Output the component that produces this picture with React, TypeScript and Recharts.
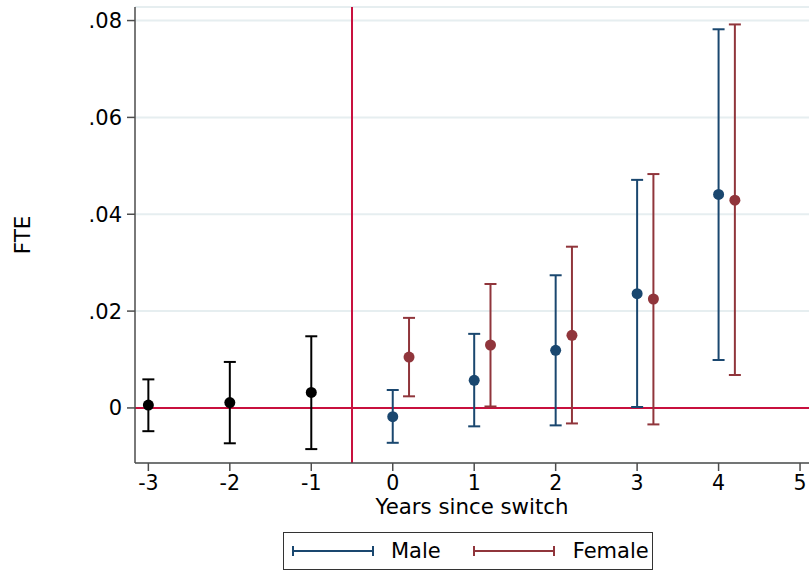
import { ComposedChart, Scatter, ErrorBar, XAxis, YAxis, CartesianGrid, ReferenceLine } from 'recharts';

// pre-switch estimates (pooled)
const preYears = [-3, -2, -1];
const preEst = [0.0006, 0.0011, 0.0032];
const preLo = [-0.0048, -0.0073, -0.0085];
const preHi = [0.0059, 0.0095, 0.0148];

// post-switch estimates by gender
const postYears = [0, 1, 2, 3, 4];
const maleEst = [-0.0018, 0.0057, 0.0119, 0.0236, 0.0441];
const maleLo = [-0.0072, -0.0038, -0.0036, 0.0002, 0.0099];
const maleHi = [0.0037, 0.0153, 0.0274, 0.0471, 0.0782];
const femaleEst = [0.0105, 0.013, 0.015, 0.0225, 0.0429];
const femaleLo = [0.0024, 0.0003, -0.0032, -0.0034, 0.0068];
const femaleHi = [0.0186, 0.0256, 0.0333, 0.0483, 0.0792];
const femaleShift = 0.2;

const xTicks = [-3, -2, -1, 0, 1, 2, 3, 4, 5];
const yTicks = [0, 0.02, 0.04, 0.06, 0.08];

const NAVY = '#1a476f';
const MAROON = '#90353b';
const RED = '#c8103e';
const FONT = '"DejaVu Sans", sans-serif';

const build = (xs: number[], est: number[], lo: number[], hi: number[], shift = 0) =>
  xs.map((x, i) => ({ x: x + shift, y: est[i], err: [est[i] - lo[i], hi[i] - est[i]] }));

const preData = build(preYears, preEst, preLo, preHi);
const maleData = build(postYears, maleEst, maleLo, maleHi);
const femaleData = build(postYears, femaleEst, femaleLo, femaleHi, femaleShift);

const fmtY = (v: number) => (v === 0 ? '0' : v.toFixed(2).replace(/^0/, ''));

const dot = (color: string) => (p: any) => <circle cx={p.cx} cy={p.cy} r={5.5} fill={color} />;

function LegendKey({ color }: { color: string }) {
  return (
    <svg width={82} height={12} style={{ display: 'block' }}>
      <line x1={1} y1={6} x2={81} y2={6} stroke={color} strokeWidth={2} />
      <line x1={1} y1={1} x2={1} y2={11} stroke={color} strokeWidth={2} />
      <line x1={81} y1={1} x2={81} y2={11} stroke={color} strokeWidth={2} />
    </svg>
  );
}

export default function App() {
  return (
    <div style={{ position: 'absolute', left: 0, top: 0, width: 809, height: 572, background: '#fff', fontFamily: FONT }}>
      <ComposedChart width={809} height={572} margin={{ top: 7, right: 0, bottom: 0, left: 0 }}>
        <CartesianGrid vertical={false} stroke="#e6eef0" strokeWidth={2} />
        <XAxis
          type="number"
          dataKey="x"
          domain={[-3.164, 5.11]}
          ticks={xTicks}
          allowDataOverflow
          height={109}
          tickSize={8}
          tickMargin={4}
          stroke="#4d4d4d"
          strokeWidth={1.5}
          tick={{ fill: '#000', fontSize: 20.5, fontFamily: FONT }}
          label={{ value: 'Years since switch', position: 'insideBottom', offset: 58, fill: '#000', fontSize: 21.3, fontFamily: FONT }}
        />
        <YAxis
          type="number"
          dataKey="y"
          domain={[-0.01137, 0.0828]}
          ticks={yTicks}
          allowDataOverflow
          width={135}
          tickSize={8}
          tickMargin={5}
          tickFormatter={fmtY}
          stroke="#4d4d4d"
          strokeWidth={1.5}
          tick={{ fill: '#000', fontSize: 21, fontFamily: FONT }}
          label={{ value: 'FTE', angle: -90, position: 'insideLeft', offset: 22, fill: '#000', fontSize: 21.5, fontFamily: FONT, style: { textAnchor: 'middle' } }}
        />
        <ReferenceLine y={0} stroke={RED} strokeWidth={2} />
        <ReferenceLine x={-0.5} stroke={RED} strokeWidth={2} />
        <Scatter data={preData} dataKey="y" isAnimationActive={false} shape={dot('#000')}>
          <ErrorBar dataKey="err" direction="y" width={6} stroke="#000" strokeWidth={2} />
        </Scatter>
        <Scatter data={maleData} dataKey="y" isAnimationActive={false} shape={dot(NAVY)}>
          <ErrorBar dataKey="err" direction="y" width={6} stroke={NAVY} strokeWidth={2} />
        </Scatter>
        <Scatter data={femaleData} dataKey="y" isAnimationActive={false} shape={dot(MAROON)}>
          <ErrorBar dataKey="err" direction="y" width={6} stroke={MAROON} strokeWidth={2} />
        </Scatter>
      </ComposedChart>
      <div
        style={{
          position: 'absolute',
          left: 283,
          top: 532,
          width: 370,
          height: 38,
          boxSizing: 'border-box',
          border: '1.5px solid #333',
          display: 'flex',
          alignItems: 'center',
          fontSize: 21,
          color: '#000',
        }}
      >
        <div style={{ marginLeft: 8 }}><LegendKey color={NAVY} /></div>
        <span style={{ marginLeft: 17 }}>Male</span>
        <div style={{ marginLeft: 32 }}><LegendKey color={MAROON} /></div>
        <span style={{ marginLeft: 18 }}>Female</span>
      </div>
    </div>
  );
}
